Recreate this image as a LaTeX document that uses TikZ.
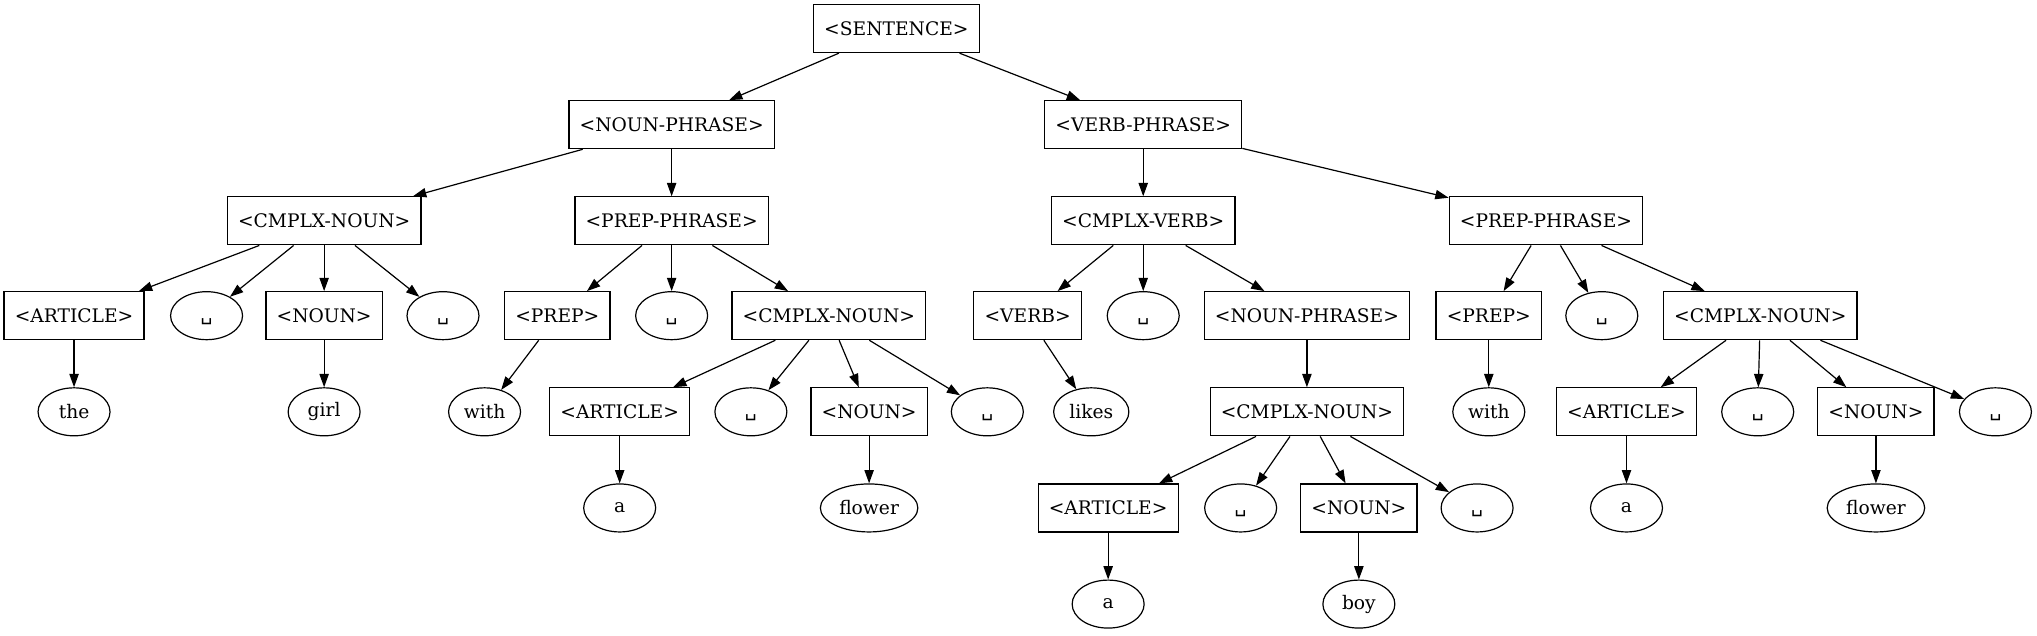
\documentclass[tikz,border=0pt]{standalone}
\usepackage{fontspec}
\setmainfont{DejaVu Serif}
\newfontfamily\symfont{DejaVu Sans}
\usetikzlibrary{arrows.meta, shapes.geometric}
\tikzset{
  rulebox/.style={draw, rectangle, line width=0.9pt, minimum height=36pt, minimum width=54pt,
    inner xsep=8pt, font=\fontsize{14}{16}\selectfont},
  wordnode/.style={draw, ellipse, line width=0.9pt, minimum height=36pt, minimum width=54pt,
    inner xsep=3.5pt, inner ysep=1pt, font=\fontsize{14}{16}\selectfont}
}
\newcommand{\spacesym}{{\symfont\vphantom{(}\char"2423}}

\begin{document}
\begin{tikzpicture}[x=0.9745pt, y=-0.9745pt, >={Triangle[length=10pt,width=7pt]}, line width=0.9pt]
  \useasboundingbox (0,0) rectangle (1568,489);
  % top levels
  \node[rulebox] (sent) at (690,22) {<SENTENCE>};
  \node[rulebox] (nphr) at (517,96) {<NOUN-PHRASE>};
  \node[rulebox] (vphr) at (880,96) {<VERB-PHRASE>};
  \node[rulebox] (cnoun1) at (249.5,170) {<CMPLX-NOUN>};
  \node[rulebox] (pphr1) at (517,170) {<PREP-PHRASE>};
  \node[rulebox] (cverb) at (880,170) {<CMPLX-VERB>};
  \node[rulebox] (pphr2) at (1190,170) {<PREP-PHRASE>};
  % third row
  \node[rulebox] (art1) at (57,243) {<ARTICLE>};
  \node[wordnode] (sp1) at (159,243) {\spacesym};
  \node[rulebox] (noun1) at (249.5,243) {<NOUN>};
  \node[wordnode] (sp2) at (341,243) {\spacesym};
  \node[rulebox] (prep1) at (429,243) {<PREP>};
  \node[wordnode] (sp3) at (517,243) {\spacesym};
  \node[rulebox] (cnoun2) at (638,243) {<CMPLX-NOUN>};
  \node[rulebox] (verb) at (791,243) {<VERB>};
  \node[wordnode] (sp4) at (880,243) {\spacesym};
  \node[rulebox] (nphr2) at (1006,243) {<NOUN-PHRASE>};
  \node[rulebox] (prep2) at (1146,243) {<PREP>};
  \node[wordnode] (sp5) at (1233,243) {\spacesym};
  \node[rulebox] (cnoun3) at (1355,243) {<CMPLX-NOUN>};
  % fourth row
  \node[wordnode] (the) at (57,317) {the};
  \node[wordnode] (girl) at (249.5,317) {girl};
  \node[wordnode] (with1) at (373,317) {with};
  \node[rulebox] (art2) at (477,317) {<ARTICLE>};
  \node[wordnode] (sp6) at (578,317) {\spacesym};
  \node[rulebox] (noun2) at (669,317) {<NOUN>};
  \node[wordnode] (sp7) at (760,317) {\spacesym};
  \node[wordnode] (likes) at (840,317) {likes};
  \node[rulebox] (cnoun4) at (1006,317) {<CMPLX-NOUN>};
  \node[wordnode] (with2) at (1146,317) {with};
  \node[rulebox] (art3) at (1252,317) {<ARTICLE>};
  \node[wordnode] (sp8) at (1353,317) {\spacesym};
  \node[rulebox] (noun3) at (1444,317) {<NOUN>};
  \node[wordnode] (sp9) at (1536,317) {\spacesym};
  % fifth and sixth rows
  \node[wordnode] (a1) at (477,391) {a};
  \node[wordnode] (flower1) at (669,391) {flower};
  \node[rulebox] (art4) at (853,391) {<ARTICLE>};
  \node[wordnode] (sp10) at (955,391) {\spacesym};
  \node[rulebox] (noun4) at (1046,391) {<NOUN>};
  \node[wordnode] (sp11) at (1137,391) {\spacesym};
  \node[wordnode] (a2) at (1252,391) {a};
  \node[wordnode] (flower2) at (1444,391) {flower};
  \node[wordnode] (a3) at (853,465) {a};
  \node[wordnode] (boy) at (1046,465) {boy};
  % derivations
  \draw[->] (sent) edge (nphr) edge (vphr);
  \draw[->] (nphr) edge (cnoun1) edge (pphr1);
  \draw[->] (vphr) edge (cverb) edge (pphr2);
  \draw[->] (cnoun1) edge (art1) edge (sp1) edge (noun1) edge (sp2);
  \draw[->] (pphr1) edge (prep1) edge (sp3) edge (cnoun2);
  \draw[->] (cverb) edge (verb) edge (sp4) edge (nphr2);
  \draw[->] (pphr2) edge (prep2) edge (sp5) edge (cnoun3);
  \draw[->] (art1) -- (the);
  \draw[->] (noun1) -- (girl);
  \draw[->] (prep1) -- (with1);
  \draw[->] (cnoun2) edge (art2) edge (sp6) edge (noun2) edge (sp7);
  \draw[->] (verb) -- (likes);
  \draw[->] (nphr2) -- (cnoun4);
  \draw[->] (prep2) -- (with2);
  \draw[->] (cnoun3) edge (art3) edge (sp8) edge (noun3) edge (sp9);
  \draw[->] (art2) -- (a1);
  \draw[->] (noun2) -- (flower1);
  \draw[->] (cnoun4) edge (art4) edge (sp10) edge (noun4) edge (sp11);
  \draw[->] (art3) -- (a2);
  \draw[->] (noun3) -- (flower2);
  \draw[->] (art4) -- (a3);
  \draw[->] (noun4) -- (boy);
\end{tikzpicture}
\end{document}
